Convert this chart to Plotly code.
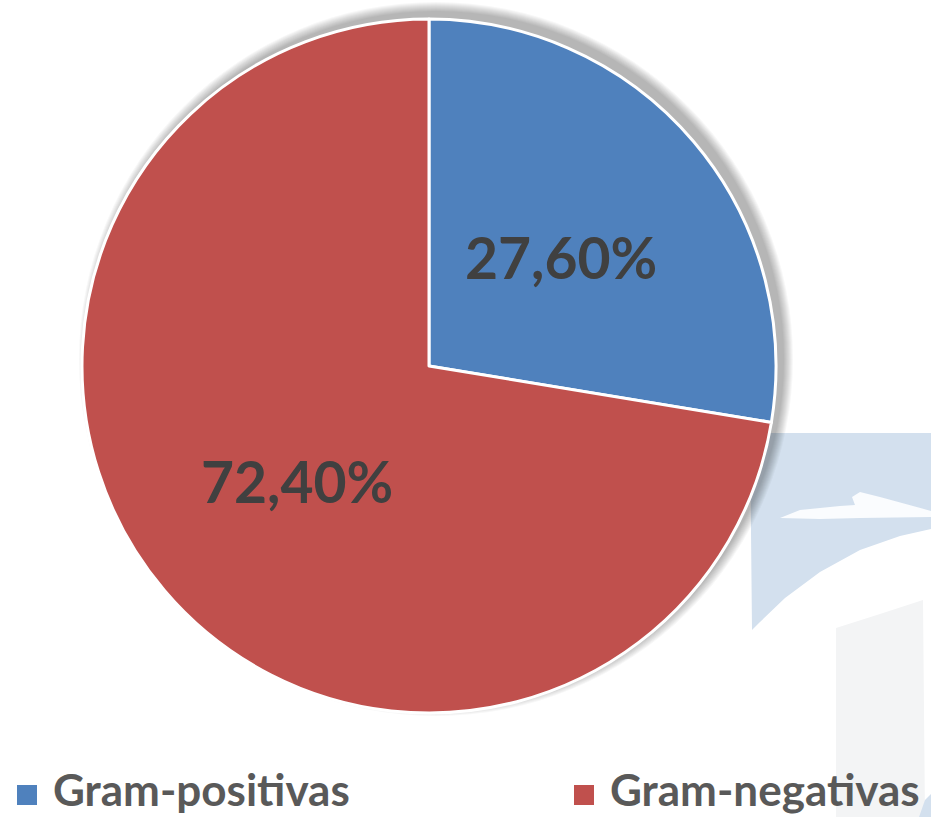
import math
import plotly.graph_objects as go

categories = ["Gram-positivas", "Gram-negativas"]
values = [27.60, 72.40]
value_labels = ["27,60%", "72,40%"]
colors = ["#4F81BD", "#C0504D"]

W, H = 931, 817

def px(x, y):
    return x / W, 1 - y / H

def path(points):
    s = ""
    for i, (x, y) in enumerate(points):
        xx, yy = px(x, y)
        s += ("M" if i == 0 else "L") + f"{xx:.5f},{yy:.5f} "
    return s + "Z"

# faint watermark background
shapes = [
    dict(type="path", xref="paper", yref="paper", layer="below",
         path=path([(750, 433), (935, 433), (935, 528), (900, 536), (860, 550), (820, 572),
                    (785, 598), (760, 622), (752, 630)]),
         fillcolor="#D3E0EE", line=dict(width=0)),
    dict(type="path", xref="paper", yref="paper", layer="below",
         path=path([(780, 518), (800, 510), (840, 506), (855, 505), (852, 497), (860, 492),
                    (880, 497), (935, 512), (935, 517), (860, 518), (820, 519)]),
         fillcolor="#FAFCFE", line=dict(width=0)),
    dict(type="path", xref="paper", yref="paper", layer="below",
         path=path([(836, 628), (880, 614), (923, 600), (925, 820), (836, 820)]),
         fillcolor="#F3F4F5", line=dict(width=0)),
    dict(type="path", xref="paper", yref="paper", layer="below",
         path=path([(925, 800), (935, 790), (935, 820), (918, 820)]),
         fillcolor="#D3E0EE", line=dict(width=0)),
]

cx, cy, r = 429, 366, 347

# soft drop shadow behind the pie (towards the upper right)
sx, sy = cx + 7, cy - 7
for k in range(10, 0, -1):
    rr = r + k
    x0, y0 = px(sx - rr, sy + rr)
    x1, y1 = px(sx + rr, sy - rr)
    shapes.append(dict(type="circle", xref="paper", yref="paper", layer="below",
                       x0=x0, y0=y0, x1=x1, y1=y1,
                       fillcolor="rgba(0,0,0,0.03)", line=dict(width=0)))

dx0, dy1 = px(cx - r, cy + r)
dx1, dy0 = px(cx + r, cy - r)

fig = go.Figure(go.Pie(
    labels=categories,
    values=values,
    textinfo="none",
    sort=False,
    direction="clockwise",
    rotation=0,
    marker=dict(colors=colors, line=dict(color="white", width=3)),
    domain=dict(x=[dx0, dx1], y=[dy1, dy0]),
    hoverinfo="label+percent",
    showlegend=False,
))

annotations = []
# value labels at half radius on each slice's mid angle
total = sum(values)
cum = 0.0
for v, lab in zip(values, value_labels):
    mid = (cum + v / 2) / total * 2 * math.pi
    cum += v
    lx = cx + 0.5 * r * math.sin(mid)
    ly = cy - 0.5 * r * math.cos(mid) + 3
    ax, ay = px(lx, ly)
    annotations.append(dict(x=ax, y=ay, xref="paper", yref="paper",
                            xanchor="center", yanchor="middle", showarrow=False,
                            text=lab,
                            font=dict(family="Lato", size=57, color="#404040", weight="bold")))

# legend drawn as square markers + text
legend_x = [17, 574]
for name, col, lx in zip(categories, colors, legend_x):
    x0, y0 = px(lx, 805)
    x1, y1 = px(lx + 20, 785)
    shapes.append(dict(type="rect", xref="paper", yref="paper",
                       x0=x0, y0=y0, x1=x1, y1=y1, fillcolor=col, line=dict(width=0)))
    tx, ty = px(lx + 34, 789)
    annotations.append(dict(x=tx, y=ty, xref="paper", yref="paper",
                            xanchor="left", yanchor="middle", showarrow=False,
                            text=name,
                            font=dict(family="Lato", size=44, color="#595959", weight="bold")))

fig.update_layout(
    width=W, height=H,
    margin=dict(l=0, r=0, t=0, b=0),
    paper_bgcolor="white",
    plot_bgcolor="white",
    shapes=shapes,
    annotations=annotations,
    showlegend=False,
)

fig.write_html(
    "out.html",
    config={"displayModeBar": False},
    post_script="document.body.style.margin='0';document.body.style.overflow='hidden';",
)
